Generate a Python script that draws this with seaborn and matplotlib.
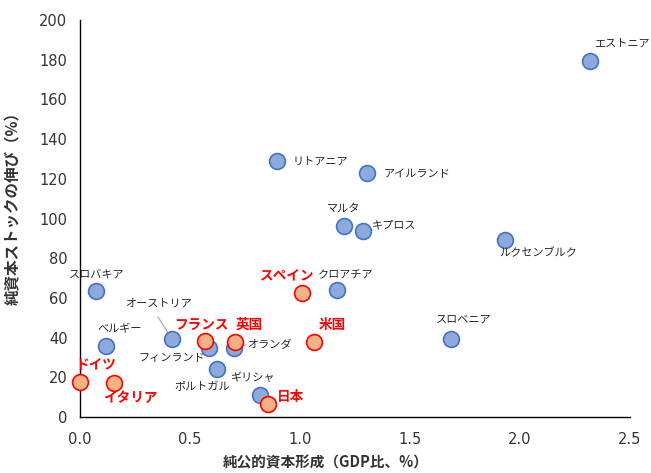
import matplotlib
matplotlib.use("Agg")
import matplotlib.pyplot as plt
import seaborn as sns
import pandas as pd

# Country, net public investment (% of GDP), net capital stock growth (%)
countries = ["エストニア", "リトアニア", "アイルランド", "マルタ", "キプロス", "ルクセンブルク",
             "クロアチア", "スペイン", "スロバキア", "スロベニア", "米国", "ベルギー",
             "オーストリア", "フランス", "フィンランド", "英国", "オランダ", "ポルトガル",
             "ドイツ", "イタリア", "ギリシャ", "日本"]
gfcf = [2.32, 0.895, 1.305, 1.20, 1.286, 1.93,
        1.168, 1.009, 0.073, 1.686, 1.064, 0.118,
        0.418, 0.568, 0.586, 0.705, 0.70, 0.623,
        0.0, 0.155, 0.818, 0.855]
growth = [179.3, 129.0, 123.0, 96.0, 93.7, 89.0,
          64.0, 62.5, 63.5, 39.3, 37.8, 35.8,
          39.3, 38.3, 34.8, 37.8, 34.8, 24.2,
          17.6, 17.1, 11.1, 6.5]
highlight = ["スペイン", "米国", "フランス", "英国", "ドイツ", "イタリア", "日本"]

df = pd.DataFrame({"country": countries, "x": gfcf, "y": growth})
df["major"] = df["country"].isin(highlight)

sns.set_theme(style="white")
plt.rcParams["font.family"] = ["DejaVu Sans", "Noto Sans CJK JP"]
JP = ["Noto Sans CJK JP", "DejaVu Sans"]

fig = plt.figure(figsize=(6.51, 4.73), dpi=100)
ax = fig.add_axes([80 / 651, 56 / 473, 550 / 651, 397 / 473])

common = dict(x="x", y="y", s=130, linewidth=1.2, clip_on=False, zorder=5, legend=False, ax=ax)
sns.scatterplot(data=df[~df["major"]], color="#8EA9DB", edgecolor="#4472C4", **common)
sns.scatterplot(data=df[df["major"]], color="#F4B183", edgecolor="#FF0000", **common)

# label placement: (dx, dy) in pixels, horizontal alignment
offsets = {
    "エストニア": (4, 17, "left"),
    "リトアニア": (16, -1, "left"),
    "アイルランド": (17, -1, "left"),
    "マルタ": (0, 18, "center"),
    "キプロス": (9, 6, "left"),
    "ルクセンブルク": (-5, -13, "left"),
    "クロアチア": (9, 15, "center"),
    "スペイン": (-15, 18, "center"),
    "スロバキア": (1, 16, "center"),
    "スロベニア": (13, 19, "center"),
    "米国": (18, 17, "center"),
    "ベルギー": (14, 17, "center"),
    "オーストリア": (-14, 35, "center"),
    "フランス": (-3, 15, "center"),
    "フィンランド": (-4, -10, "right"),
    "英国": (14, 17, "center"),
    "オランダ": (13, 3, "left"),
    "ポルトガル": (-15, -18, "center"),
    "ドイツ": (16, 17, "center"),
    "イタリア": (16, -15, "center"),
    "ギリシャ": (-8, 17, "center"),
    "日本": (9, 7, "left"),
}

for _, r in df.iterrows():
    dx, dy, ha = offsets[r["country"]]
    if r["major"]:
        kw = dict(fontsize=9.8, fontweight="bold", color="#FF0000")
    else:
        kw = dict(fontsize=8, color="#262626")
    ax.annotate(r["country"], (r["x"], r["y"]), xytext=(dx, dy),
                textcoords="offset pixels", ha=ha, va="center",
                family=JP, zorder=6, **kw)

# leader lines
ax.annotate("", (0.418, 39.3), xytext=(-14, 22), textcoords="offset pixels",
            arrowprops=dict(arrowstyle="-", color="#A6A6A6", lw=0.8, shrinkA=0, shrinkB=2))
ax.annotate("", (0.70, 34.8), xytext=(12, 3), textcoords="offset pixels",
            arrowprops=dict(arrowstyle="-", color="#A6A6A6", lw=0.8, shrinkA=0, shrinkB=4))

ax.set_xlim(0, 2.5)
ax.set_ylim(0, 200)
ax.set_xticks([0, 0.5, 1.0, 1.5, 2.0, 2.5])
ax.set_xticklabels(["0.0", "0.5", "1.0", "1.5", "2.0", "2.5"])
ax.set_yticks(range(0, 201, 20))
ax.tick_params(axis="both", direction="out", length=5, width=1, color="#000000",
               labelsize=10.5, labelcolor="#333333", pad=4)
ax.tick_params(axis="x", pad=6)
for side in ["top", "right"]:
    ax.spines[side].set_visible(False)
for side in ["left", "bottom"]:
    ax.spines[side].set_color("#000000")
    ax.spines[side].set_linewidth(1)

ax.set_xlabel("純公的資本形成（GDP比、%）", family=JP, fontsize=10.5, fontweight="bold",
              color="#333333")
ax.set_ylabel("純資本ストックの伸び（%）", family=JP, fontsize=11.2, fontweight="bold",
              color="#333333")
ax.xaxis.set_label_coords(0.447, -0.095)
ax.yaxis.set_label_coords(-0.108, 0.535)

fig.savefig("out.png", dpi=100)
